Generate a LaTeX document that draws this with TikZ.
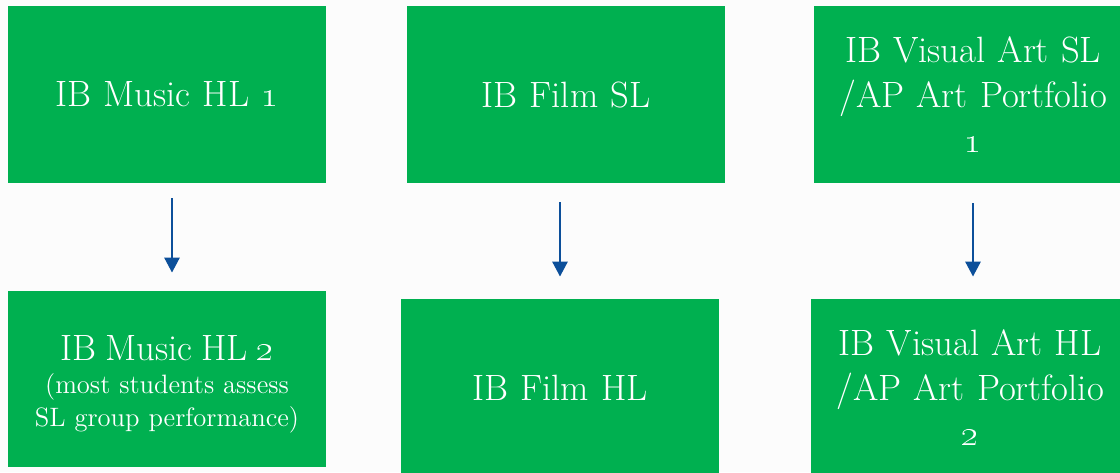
\RequirePackage{fix-cm}
\documentclass[tikz,border=0pt]{standalone}
\usetikzlibrary{arrows.meta}
\definecolor{boxgreen}{RGB}{0,176,80}
\definecolor{arrowblue}{RGB}{12,79,154}
\tikzset{
  course/.style={fill=boxgreen,text=white,minimum width=159pt,minimum height=88.5pt,
    text width=150pt,align=center,inner sep=0pt,font=\fontsize{18.3}{22.5}\selectfont},
  flow/.style={arrowblue,line width=1.4pt,-{Triangle[width=7.5pt,length=7.5pt]}}
}
\begin{document}
\begin{tikzpicture}[x=0.5pt,y=-0.5pt]
\useasboundingbox (0,0) rectangle (1120,472);
\clip (0,0) rectangle (1120,472);
\fill[white!99!black] (0,0) rectangle (1120,472);

\node[course] (m1) at (167,94.5) {IB Music HL \oldstylenums{1}};
\node[course] (f1) at (566,94.5) {IB Film SL};
\node[course] (a1) at (973,94.5) {IB Visual Art SL\\ /AP Art Portfolio\\ \oldstylenums{1}};

\node[course,minimum height=88pt,font=\fontsize{13.3}{16.5}\selectfont] (m2) at (167,379)
  {{\fontsize{18.3}{16.5}\selectfont\rule{0pt}{17.7pt}IB Music HL \oldstylenums{2}}\\ (most students assess\\ SL group performance)};
\node[course] (f2) at (560,387.5) {IB Film HL};
\node[course] (a2) at (970,387.5) {IB Visual Art HL\\ /AP Art Portfolio\\ \oldstylenums{2}};

\draw[flow,shorten <=7.5pt,shorten >=9pt] ([xshift=2.5pt]m1.south) -- ([xshift=2.5pt]m2.north);
\draw[flow,shorten <=9.5pt,shorten >=11pt] (f2.north |- f1.south) -- (f2.north);
\draw[flow,shorten <=10pt,shorten >=11pt] (a1.south) -- (a1.south |- a2.north);
\end{tikzpicture}
\end{document}
